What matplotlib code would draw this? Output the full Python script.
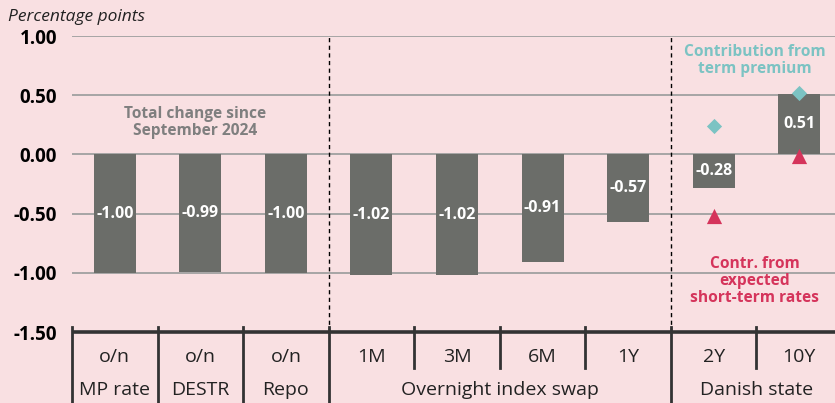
import matplotlib
matplotlib.use("Agg")
import matplotlib.pyplot as plt

plt.rcParams['font.family'] = ['Open Sans', 'DejaVu Sans']

maturities = ["o/n", "o/n", "o/n", "1M", "3M", "6M", "1Y", "2Y", "10Y"]
groups = ["MP rate", "DESTR", "Repo", "Overnight index swap", "Danish state"]
group_spans = [(0, 0), (1, 1), (2, 2), (3, 6), (7, 8)]
total_change = [-1.00, -0.99, -1.00, -1.02, -1.02, -0.91, -0.57, -0.28, 0.51]
value_labels = ["-1.00", "-0.99", "-1.00", "-1.02", "-1.02", "-0.91", "-0.57", "-0.28", "0.51"]
tp_idx = [7, 8]
term_premium = [0.24, 0.52]
expected_rates = [-0.52, -0.01]
yticks = [1.0, 0.5, 0.0, -0.5, -1.0, -1.5]
ytick_labels = ["1.00", "0.50", "0.00", "-0.50", "-1.00", "-1.50"]

BG = "#f9e0e2"
BAR = "#6b6d69"
TEAL = "#7cc3c3"
RED = "#d5345b"
GRID = "#a0a0a0"
DARK = "#333333"

fig = plt.figure(figsize=(8.35, 4.03), dpi=100, facecolor=BG)
ax = fig.add_axes([72/835, 1-332/403, 770/835, 296/403])
ax.set_facecolor(BG)
ax.set_xlim(-0.5, 8.5)
ax.set_ylim(-1.5, 1.0)

for y in yticks[:-1]:
    ax.axhline(y, color=GRID, lw=1.3, zorder=1)

x = list(range(len(total_change)))
ax.bar(x, total_change, width=0.49, color=BAR, zorder=2)
for xi, v, lab in zip(x, total_change, value_labels):
    ax.text(xi, v/2, lab, ha='center', va='center', color='white',
            fontsize=11.5, fontweight='bold', zorder=4)

ax.scatter(tp_idx, term_premium, marker='D', s=60, color=TEAL, zorder=5, linewidths=0)
ax.scatter(tp_idx, expected_rates, marker='^', s=120, color=RED, zorder=5, linewidths=0)

for b in [2.5, 6.5]:
    ax.axvline(b, color='black', lw=1, ls=(0, (3, 2.5)), zorder=3)

ax.text(0.94, 0.27, "Total change since\nSeptember 2024", ha='center', va='center',
        color='#7f7f7f', fontsize=11.2, fontweight='bold', linespacing=1.1, zorder=4)
ax.text(7.48, 0.79, "Contribution from\nterm premium", ha='center', va='center',
        color=TEAL, fontsize=11.2, fontweight='bold', linespacing=1.1, zorder=4)
ax.text(7.48, -1.07, "Contr. from\nexpected\nshort-term rates", ha='center', va='center',
        color=RED, fontsize=11.2, fontweight='bold', linespacing=1.05, zorder=4)

for s in ax.spines.values():
    s.set_visible(False)
ax.set_xticks([])
ax.set_yticks(yticks)
ax.set_yticklabels(ytick_labels, fontsize=13.5, fontweight='bold')
ax.tick_params(axis='y', length=0, pad=10.8)

# bottom axis table
tr = ax.get_xaxis_transform()
px = 1/296
ax.plot([-0.5, 8.5], [0, 0], color=DARK, lw=2.6, transform=tr, clip_on=False, zorder=6,
        solid_capstyle='butt')
boundaries = [b - 0.5 for b in range(10)]
group_bounds = [-0.5, 0.5, 1.5, 2.5, 6.5, 8.5]
for b in boundaries:
    bottom = -71*px if b in group_bounds else -36*px
    ax.plot([b, b], [5*px, bottom], color=DARK, lw=2, transform=tr, clip_on=False, zorder=6)

for xi, m in zip(x, maturities):
    ax.text(xi, -25*px, m, transform=tr, ha='center', va='center', fontsize=14, color='#222222')
for (a, b), g in zip(group_spans, groups):
    ax.text((a+b)/2, -58*px, g, transform=tr, ha='center', va='center', fontsize=14, color='#222222')

fig.text(8/835, 1-17/403, "Percentage points", ha='left', va='center', fontsize=12.5,
         style='italic', color='#222222')

fig.savefig("out.png", dpi=100, facecolor=BG)
